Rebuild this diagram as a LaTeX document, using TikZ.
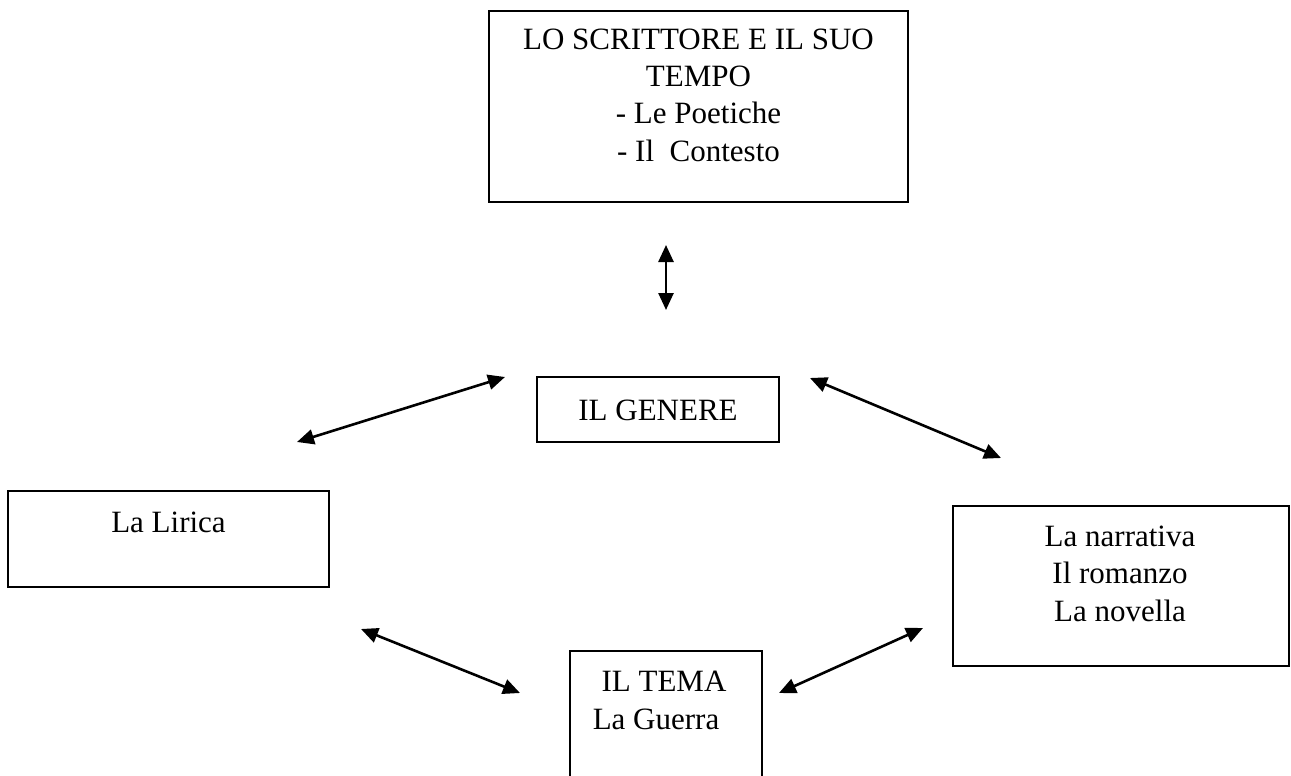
\documentclass[tikz,border=0pt]{standalone}
\usepackage{fontspec}
\setmainfont{Liberation Serif}
\usetikzlibrary{arrows.meta}
\begin{document}
\begin{tikzpicture}[x=1pt,y=-1pt,
  box/.style={draw=black,line width=1.3pt,inner sep=0pt},
  txt/.style={font=\fontsize{31}{37}\selectfont,inner sep=0pt,anchor=base},
  biarrow/.style={line width=2.6pt,{Triangle[length=17pt,width=15pt]}-{Triangle[length=17pt,width=15pt]}}]
\useasboundingbox (0,0) rectangle (1291,776);
% boxes
\node[box,minimum width=419pt,minimum height=191pt] (top) at (698.5,106.5) {};
\node[box,minimum width=242pt,minimum height=65pt] (genere) at (658,409.5) {};
\node[box,minimum width=321pt,minimum height=96pt] (lirica) at (168.5,539) {};
\node[box,minimum width=336pt,minimum height=160pt] (narr) at (1121,586) {};
\node[box,minimum width=192pt,minimum height=149pt] (tema) at (666,725.5) {};
% texts
\node[txt] (t1) at (698.5,50) {LO SCRITTORE E IL SUO};
\node[txt] (t2) at (698.5,87) {TEMPO};
\node[txt] (t3) at (698.5,124) {- Le Poetiche};
\node[txt] (t4) at (698.5,161) {- Il\ \ Contesto};
\node[txt] (tg) at (658,420) {IL GENERE};
\node[txt] (tl) at (168.5,532) {La Lirica};
\node[txt] (n1) at (1120,546) {La narrativa};
\node[txt] (n2) at (1120,583.5) {Il romanzo};
\node[txt] (n3) at (1120,621) {La novella};
\node[txt] (m1) at (664,691) {IL TEMA};
\node[txt] (m2) at (656,729) {La Guerra};
% arrow end points
\coordinate (v1) at (666,245); \coordinate (v2) at (666,310);
\coordinate (a1) at (297,442); \coordinate (a2) at (505,377);
\coordinate (b1) at (810,378); \coordinate (b2) at (1001,458);
\coordinate (c1) at (361,629); \coordinate (c2) at (520,693);
\coordinate (d1) at (779,693); \coordinate (d2) at (923,628);
\draw[biarrow] (v1) -- (v2);
\draw[biarrow] (a1) -- (a2);
\draw[biarrow] (b1) -- (b2);
\draw[biarrow] (c1) -- (c2);
\draw[biarrow] (d1) -- (d2);
\end{tikzpicture}
\end{document}
